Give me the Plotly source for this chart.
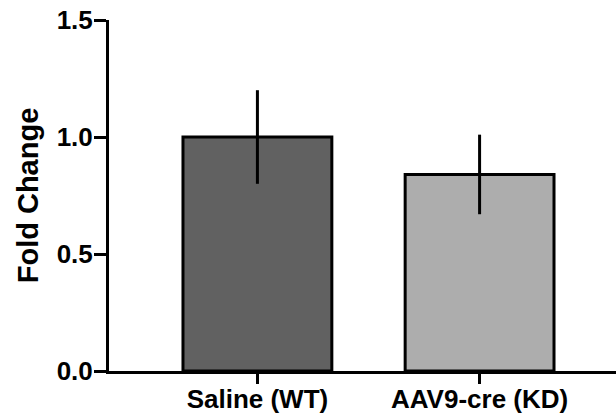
import plotly.graph_objects as go

categories = ["Saline (WT)", "AAV9-cre (KD)"]
fold_change = [1.0, 0.84]
error = [0.2, 0.17]
bar_colors = ["#616161", "#adadad"]
y_ticks = [0.0, 0.5, 1.0, 1.5]
y_tick_text = ["0.0", "0.5", "1.0", "1.5"]

FONT = "Liberation Sans, Arial, Helvetica, sans-serif"

fig = go.Figure()
fig.add_trace(go.Bar(
    x=[0, 1],
    y=fold_change,
    width=0.67,
    marker=dict(color=bar_colors, line=dict(color="black", width=3)),
    error_y=dict(type="data", array=error, visible=True, color="black", thickness=3, width=0),
    showlegend=False,
))

fig.update_layout(
    width=616, height=416,
    margin=dict(l=109, r=0, t=20, b=45, pad=0),
    plot_bgcolor="white", paper_bgcolor="white",
    font=dict(family=FONT, color="black"),
    xaxis=dict(
        range=[-0.668, 1.614],
        automargin=False,
        tickmode="array", tickvals=[0, 1], ticktext=categories,
        tickfont=dict(family=FONT, size=26, color="black", weight="bold"),
        ticklabelstandoff=-7,
        showline=True, linecolor="black", linewidth=3,
        ticks="outside", ticklen=10, tickwidth=3, tickcolor="black",
        showgrid=False, zeroline=False,
    ),
    yaxis=dict(
        range=[0, 1.5],
        automargin=False,
        tickmode="array", tickvals=y_ticks, ticktext=y_tick_text,
        tickfont=dict(family=FONT, size=26, color="black", weight="bold"),
        ticklabelstandoff=-4,
        showline=True, linecolor="black", linewidth=3,
        ticks="outside", ticklen=12, tickwidth=3, tickcolor="black",
        showgrid=False, zeroline=False,
        title=dict(text="Fold Change", font=dict(family=FONT, size=29, color="black", weight="bold"), standoff=10),
    ),
)

fig.write_html("out.html")
